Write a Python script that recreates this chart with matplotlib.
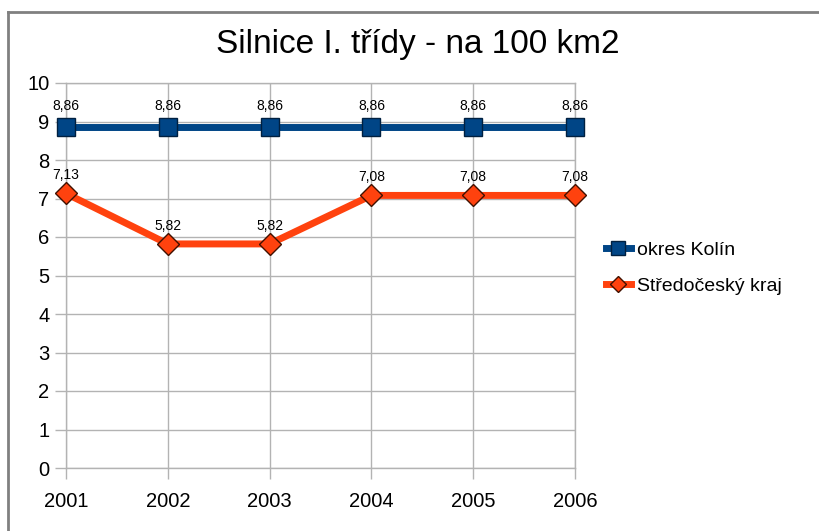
import matplotlib
matplotlib.use("Agg")
import matplotlib.pyplot as plt
from matplotlib.lines import Line2D

years = ["2001", "2002", "2003", "2004", "2005", "2006"]
kolin = [8.86, 8.86, 8.86, 8.86, 8.86, 8.86]
stredocesky = [7.13, 5.82, 5.82, 7.08, 7.08, 7.08]
kolin_labels = ["8,86", "8,86", "8,86", "8,86", "8,86", "8,86"]
stred_labels = ["7,13", "5,82", "5,82", "7,08", "7,08", "7,08"]
yticks = list(range(0, 11))

plt.rcParams['font.family'] = ['Liberation Sans', 'DejaVu Sans']

W, H = 819, 531
fig = plt.figure(figsize=(W/100, H/100), dpi=100)
ax = fig.add_axes([66/W, 1-468/H, (575-66)/W, (468-83)/H])

blue = "#004586"
orange = "#ff420e"
grid = "#b3b3b3"

x = list(range(len(years)))
ax.plot(x, kolin, color=blue, lw=5, marker="s", ms=13, mfc=blue, mec="#002040", mew=1, zorder=3, clip_on=False)
ax.plot(x, stredocesky, color=orange, lw=5, marker="D", ms=11, mfc=orange, mec="#401000", mew=1, zorder=3, clip_on=False)

for xi, v, t in zip(x, kolin, kolin_labels):
    ax.annotate(t, (xi, v), xytext=(0, 10), textcoords="offset points", ha="center", va="bottom", fontsize=10)
for xi, v, t in zip(x, stredocesky, stred_labels):
    ax.annotate(t, (xi, v), xytext=(0, 8), textcoords="offset points", ha="center", va="bottom", fontsize=10)

ax.set_xlim(0, 5)
ax.set_ylim(0, 10)
ax.set_xticks(x)
ax.set_xticklabels(years, fontsize=14.5)
ax.set_yticks(yticks)
ax.set_yticklabels([str(v) for v in yticks], fontsize=14.5)
ax.grid(True, color=grid, lw=1)
ax.set_axisbelow(True)
for s in ax.spines.values():
    s.set_color(grid)
    s.set_linewidth(1)
ax.tick_params(axis="both", color=grid, length=8, width=1)
ax.tick_params(axis="x", pad=9)
ax.tick_params(axis="y", pad=4)

fig.text(418/W, 1-44/H, "Silnice I. třídy - na 100 km2", ha="center", va="center", fontsize=24)

handles = [
    Line2D([], [], color=blue, lw=5, marker="s", ms=10, mfc=blue, mec="#002040"),
    Line2D([], [], color=orange, lw=5, marker="D", ms=8, mfc=orange, mec="#401000"),
]
fig.legend(handles, ["okres Kolín", "Středočeský kraj"], loc="center left",
           bbox_to_anchor=(588/W, 1-268/H), frameon=False, fontsize=14,
           handlelength=1.3, handletextpad=0.3, labelspacing=0.95)

fig.add_artist(Line2D([7.5/W, 7.5/W], [0, 1-11.5/H], color="#808080", lw=2, transform=fig.transFigure))
fig.add_artist(Line2D([7.5/W, 1], [1-11.5/H, 1-11.5/H], color="#808080", lw=2, transform=fig.transFigure))

fig.savefig("out.png", dpi=100)
